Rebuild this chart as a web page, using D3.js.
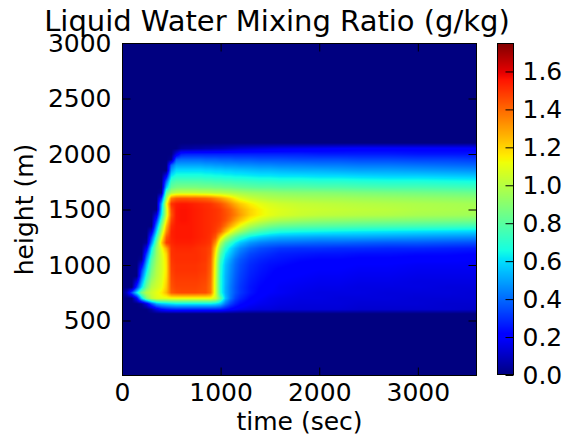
<!DOCTYPE html>
<html>
<head>
<meta charset="utf-8">
<script src="https://cdn.jsdelivr.net/npm/d3@7"></script>
<style>
  body { margin: 0; background: #fff; }
  svg { display: block; }
  text { font-family: "DejaVu Sans", sans-serif; fill: #000; }
</style>
</head>
<body>
<svg id="chart" width="564" height="436"></svg>
<script>
// Sample times (s) of the liquid-water field
const timeNodes = [0, 50, 100, 150, 200, 250, 300, 350, 400, 450,
                   500, 550, 600, 650, 700, 750, 800, 850, 900, 950,
                   1000, 1050, 1100, 1150, 1200, 1300, 1400, 1500, 1600,
                   1800, 2000, 2200, 2400, 2700, 3000, 3300, 3600];

// Sample heights (m)
const heightNodes = [0, 560, 600, 650, 700, 750, 800, 850, 900, 950, 1000,
                     1050, 1100, 1150, 1200, 1250, 1300, 1350, 1400, 1450, 1500,
                     1550, 1600, 1650, 1700, 1750, 1800, 1850, 1900, 1950, 2000,
                     2050, 2100, 3000];

// Liquid water mixing ratio (g/kg): one row per height, one value per time
const lwcRows = [
  /*    0 */ [0,0,0,0,0,0,0,0,0,0, 0,0,0,0,0,0,0,0,0,0, 0,0,0,0,0,0,0,0,0, 0,0,0,0,0,0,0,0],
  /*  560 */ [0,0,0,0,0,0,0,0,0,0, 0,0,0,0,0,0,0,0,0,0, 0,0,0,0,0,0,0,0,0, 0,0,0,0,0,0,0,0],
  /*  600 */ [0,0,0,0,0,0,0.05,0.15,0.22,0.25, 0.27,0.28,0.28,0.28,0.28,0.28,0.28,0.28,0.28,0.28, 0.27,0.24,0.21,0.19,0.17,0.15,0.14,0.14,0.13, 0.13,0.13,0.13,0.12,0.12,0.12,0.12,0.11],
  /*  650 */ [0,0,0,0,0.03,0.15,0.35,0.5,0.55,0.58, 0.6,0.62,0.62,0.62,0.62,0.62,0.62,0.62,0.62,0.6, 0.55,0.42,0.33,0.27,0.23,0.19,0.17,0.16,0.15, 0.14,0.14,0.14,0.13,0.13,0.13,0.12,0.12],
  /*  700 */ [0,0,0,0.2,0.6,0.88,1.02,1.08,1.1,1.1, 1.12,1.12,1.12,1.12,1.12,1.12,1.12,1.12,1.12,1.05, 0.8,0.55,0.42,0.33,0.28,0.22,0.19,0.17,0.16, 0.15,0.15,0.14,0.14,0.14,0.13,0.13,0.13],
  /*  750 */ [0,0.1,0.35,0.62,0.87,1.0,1.05,1.1,1.15,1.25, 1.42,1.45,1.46,1.46,1.46,1.46,1.45,1.45,1.38,1.05, 0.68,0.52,0.43,0.36,0.31,0.25,0.21,0.19,0.18, 0.16,0.15,0.15,0.15,0.14,0.14,0.14,0.13],
  /*  800 */ [0,0,0,0.3,0.6,0.85,1.0,1.05,1.1,1.22, 1.44,1.47,1.47,1.47,1.47,1.47,1.46,1.45,1.38,1.05, 0.68,0.52,0.43,0.36,0.31,0.25,0.22,0.2,0.18, 0.17,0.16,0.16,0.15,0.15,0.15,0.14,0.14],
  /*  850 */ [0,0,0,0.15,0.5,0.78,0.95,1.03,1.08,1.2, 1.45,1.48,1.48,1.48,1.48,1.48,1.47,1.46,1.39,1.05, 0.68,0.53,0.44,0.37,0.32,0.26,0.23,0.21,0.19, 0.18,0.17,0.17,0.16,0.16,0.15,0.15,0.15],
  /*  900 */ [0,0,0,0,0.4,0.7,0.9,1.0,1.07,1.18, 1.46,1.49,1.49,1.49,1.49,1.49,1.48,1.47,1.4,1.06, 0.68,0.53,0.45,0.38,0.33,0.27,0.24,0.22,0.2, 0.19,0.18,0.18,0.17,0.17,0.16,0.16,0.16],
  /*  950 */ [0,0,0,0,0.32,0.62,0.86,0.99,1.06,1.17, 1.47,1.5,1.5,1.5,1.5,1.5,1.49,1.48,1.41,1.07, 0.69,0.54,0.46,0.39,0.34,0.28,0.25,0.23,0.21, 0.2,0.19,0.19,0.18,0.18,0.17,0.17,0.17],
  /* 1000 */ [0,0,0,0,0.18,0.55,0.82,0.97,1.06,1.17, 1.48,1.5,1.5,1.5,1.5,1.5,1.49,1.48,1.42,1.08, 0.7,0.55,0.47,0.4,0.35,0.29,0.26,0.24,0.23, 0.21,0.2,0.2,0.19,0.19,0.18,0.18,0.18],
  /* 1050 */ [0,0,0,0,0.03,0.45,0.78,0.95,1.06,1.18, 1.49,1.51,1.51,1.51,1.51,1.51,1.5,1.49,1.43,1.1, 0.74,0.58,0.5,0.42,0.37,0.31,0.28,0.26,0.25, 0.23,0.22,0.22,0.21,0.21,0.2,0.2,0.19],
  /* 1100 */ [0,0,0,0,0,0.33,0.7,0.93,1.07,1.2, 1.5,1.51,1.51,1.51,1.51,1.51,1.5,1.49,1.45,1.14, 0.8,0.63,0.55,0.47,0.41,0.34,0.31,0.29,0.27, 0.26,0.25,0.25,0.24,0.24,0.23,0.23,0.22],
  /* 1150 */ [0,0,0,0,0,0.18,0.62,0.92,1.1,1.28, 1.5,1.52,1.52,1.52,1.52,1.51,1.5,1.49,1.46,1.2, 0.88,0.7,0.6,0.52,0.46,0.39,0.35,0.33,0.31, 0.3,0.3,0.29,0.29,0.28,0.28,0.27,0.26],
  /* 1200 */ [0,0,0,0,0,0.03,0.45,0.84,1.2,1.48, 1.52,1.54,1.54,1.54,1.54,1.53,1.52,1.51,1.49,1.32, 1.0,0.82,0.72,0.63,0.56,0.48,0.44,0.42,0.41, 0.4,0.39,0.39,0.38,0.37,0.37,0.36,0.35],
  /* 1250 */ [0,0,0,0,0,0,0.32,0.72,1.1,1.43, 1.53,1.55,1.55,1.55,1.55,1.54,1.53,1.52,1.5,1.43, 1.2,1.02,0.9,0.8,0.72,0.62,0.57,0.54,0.52, 0.51,0.5,0.5,0.5,0.49,0.48,0.47,0.46],
  /* 1300 */ [0,0,0,0,0,0,0.15,0.58,0.98,1.33, 1.53,1.55,1.55,1.55,1.55,1.54,1.53,1.52,1.51,1.48, 1.4,1.25,1.12,1.02,0.94,0.82,0.75,0.7,0.67, 0.65,0.64,0.63,0.62,0.61,0.6,0.59,0.58],
  /* 1350 */ [0,0,0,0,0,0,0,0.45,0.88,1.25, 1.51,1.55,1.55,1.55,1.55,1.54,1.53,1.52,1.51,1.49, 1.46,1.38,1.28,1.19,1.1,0.98,0.91,0.86,0.83, 0.81,0.8,0.79,0.78,0.77,0.76,0.75,0.74],
  /* 1400 */ [0,0,0,0,0,0,0,0.3,0.75,1.15, 1.47,1.55,1.56,1.56,1.55,1.54,1.53,1.52,1.51,1.5, 1.48,1.44,1.38,1.3,1.23,1.12,1.05,1.0,0.97, 0.94,0.92,0.91,0.9,0.89,0.88,0.87,0.86],
  /* 1450 */ [0,0,0,0,0,0,0,0.15,0.62,1.05, 1.43,1.55,1.56,1.56,1.55,1.54,1.53,1.52,1.51,1.5, 1.48,1.45,1.41,1.36,1.3,1.2,1.14,1.1,1.07, 1.04,1.02,1.01,1.0,0.99,0.97,0.96,0.95],
  /* 1500 */ [0,0,0,0,0,0,0,0,0.55,1.05, 1.45,1.55,1.56,1.56,1.55,1.54,1.53,1.52,1.51,1.5, 1.48,1.44,1.4,1.34,1.28,1.2,1.14,1.1,1.08, 1.05,1.04,1.03,1.02,1.01,0.99,0.98,0.97],
  /* 1550 */ [0,0,0,0,0,0,0,0,0.5,1.1, 1.5,1.54,1.55,1.55,1.54,1.53,1.52,1.51,1.5,1.47, 1.44,1.39,1.33,1.27,1.22,1.15,1.1,1.07,1.05, 1.03,1.02,1.01,1.0,0.99,0.98,0.97,0.96],
  /* 1600 */ [0,0,0,0,0,0,0,0,0.3,0.95, 1.35,1.42,1.43,1.43,1.42,1.42,1.41,1.4,1.38,1.34, 1.3,1.25,1.2,1.14,1.09,1.04,1.01,0.99,0.98, 0.97,0.96,0.96,0.95,0.94,0.93,0.92,0.91],
  /* 1650 */ [0,0,0,0,0,0,0,0,0.03,0.8, 0.98,1.02,1.03,1.03,1.03,1.03,1.02,1.02,1.01,1.0, 1.0,0.99,0.98,0.97,0.96,0.94,0.93,0.92,0.91, 0.9,0.9,0.89,0.88,0.87,0.86,0.85,0.84],
  /* 1700 */ [0,0,0,0,0,0,0,0,0,0.55, 0.82,0.86,0.87,0.87,0.87,0.87,0.86,0.86,0.86,0.85, 0.85,0.84,0.84,0.83,0.82,0.81,0.8,0.8,0.79, 0.79,0.78,0.78,0.77,0.76,0.76,0.75,0.74],
  /* 1750 */ [0,0,0,0,0,0,0,0,0,0.4, 0.74,0.78,0.78,0.78,0.78,0.78,0.78,0.77,0.77,0.76, 0.76,0.75,0.75,0.74,0.74,0.73,0.72,0.72,0.71, 0.71,0.7,0.7,0.69,0.68,0.68,0.67,0.66],
  /* 1800 */ [0,0,0,0,0,0,0,0,0,0.2, 0.62,0.68,0.68,0.68,0.68,0.68,0.68,0.67,0.67,0.66, 0.66,0.65,0.65,0.64,0.64,0.63,0.62,0.62,0.61, 0.61,0.6,0.6,0.59,0.58,0.58,0.57,0.56],
  /* 1850 */ [0,0,0,0,0,0,0,0,0,0, 0.5,0.6,0.6,0.6,0.6,0.6,0.6,0.59,0.59,0.58, 0.58,0.57,0.57,0.56,0.56,0.55,0.54,0.54,0.53, 0.52,0.52,0.51,0.5,0.5,0.49,0.48,0.47],
  /* 1900 */ [0,0,0,0,0,0,0,0,0,0, 0.38,0.5,0.5,0.5,0.5,0.5,0.5,0.49,0.49,0.48, 0.48,0.47,0.47,0.47,0.46,0.46,0.45,0.45,0.44, 0.44,0.43,0.43,0.42,0.42,0.41,0.4,0.39],
  /* 1950 */ [0,0,0,0,0,0,0,0,0,0, 0.03,0.38,0.4,0.4,0.4,0.4,0.4,0.39,0.39,0.39, 0.38,0.38,0.38,0.37,0.37,0.37,0.36,0.36,0.36, 0.35,0.35,0.35,0.34,0.34,0.33,0.33,0.32],
  /* 2000 */ [0,0,0,0,0,0,0,0,0,0, 0,0.15,0.26,0.27,0.27,0.27,0.27,0.27,0.27,0.27, 0.27,0.27,0.27,0.27,0.27,0.27,0.27,0.27,0.27, 0.27,0.26,0.26,0.26,0.26,0.25,0.25,0.25],
  /* 2050 */ [0,0,0,0,0,0,0,0,0,0, 0,0,0.04,0.05,0.05,0.06,0.06,0.07,0.07,0.08, 0.08,0.09,0.1,0.11,0.12,0.13,0.14,0.15,0.16, 0.17,0.18,0.19,0.2,0.2,0.2,0.2,0.2],
  /* 2100 */ [0,0,0,0,0,0,0,0,0,0, 0,0,0,0,0,0,0,0,0,0, 0,0,0,0,0,0,0,0,0, 0,0,0,0,0,0,0,0],
  /* 3000 */ [0,0,0,0,0,0,0,0,0,0, 0,0,0,0,0,0,0,0,0,0, 0,0,0,0,0,0,0,0,0, 0,0,0,0,0,0,0,0]
];

const xTicks = [0, 1000, 2000, 3000];
const yTicks = [500, 1000, 1500, 2000, 2500, 3000];
const cbTicks = [0, 0.2, 0.4, 0.6, 0.8, 1.0, 1.2, 1.4, 1.6];
const cbMax = 1.75;

const titleText = "Liquid Water Mixing Ratio (g/kg)";
const xLabel = "time (sec)";
const yLabel = "height (m)";

const svg = d3.select("#chart");
svg.append("rect").attr("width", 564).attr("height", 436).attr("fill", "#fff");

const x = d3.scaleLinear().domain([0, 3600]).range([122, 477]);
const y = d3.scaleLinear().domain([0, 3000]).range([376, 43]);
const cb = d3.scaleLinear().domain([0, cbMax]).range([375, 43]);

// jet colormap, channel by channel
const jr = d3.scaleLinear().domain([0, 0.35, 0.66, 0.89, 1]).range([0, 0, 1, 1, 0.5]).clamp(true);
const jg = d3.scaleLinear().domain([0, 0.125, 0.375, 0.64, 0.91, 1]).range([0, 0, 1, 1, 0, 0]).clamp(true);
const jb = d3.scaleLinear().domain([0, 0.11, 0.34, 0.65, 1]).range([0.5, 1, 1, 0, 0]).clamp(true);
const norm = d3.scaleLinear().domain([0, cbMax]).range([0, 1]).clamp(true);
function jet(v) {
  const u = norm(v);
  return [Math.round(jr(u) * 255), Math.round(jg(u) * 255), Math.round(jb(u) * 255)];
}

// bilinear shading between the sample nodes
function field(t, h) {
  const nt = timeNodes.length, nh = heightNodes.length;
  const i = Math.max(0, Math.min(nt - 2, d3.bisectRight(timeNodes, t) - 1));
  const j = Math.max(0, Math.min(nh - 2, d3.bisectRight(heightNodes, h) - 1));
  const ft = Math.max(0, Math.min(1, (t - timeNodes[i]) / (timeNodes[i + 1] - timeNodes[i])));
  const fh = Math.max(0, Math.min(1, (h - heightNodes[j]) / (heightNodes[j + 1] - heightNodes[j])));
  const a = lwcRows[j][i] * (1 - ft) + lwcRows[j][i + 1] * ft;
  const b = lwcRows[j + 1][i] * (1 - ft) + lwcRows[j + 1][i + 1] * ft;
  return a * (1 - fh) + b * fh;
}

// heat map raster
const px0 = x(0), px1 = x(3600), py0 = y(3000), py1 = y(0);
const W = Math.round(px1 - px0), H = Math.round(py1 - py0);
const can = document.createElement("canvas");
can.width = W; can.height = H;
const ctx = can.getContext("2d");
const img = ctx.createImageData(W, H);
for (let r = 0; r < H; r++) {
  const h = y.invert(py0 + r + 0.5);
  for (let c = 0; c < W; c++) {
    const t = x.invert(px0 + c + 0.5);
    const col = jet(field(t, h));
    const k = (r * W + c) * 4;
    img.data[k] = col[0]; img.data[k + 1] = col[1]; img.data[k + 2] = col[2]; img.data[k + 3] = 255;
  }
}
ctx.putImageData(img, 0, 0);
svg.append("image")
  .attr("x", px0).attr("y", py0).attr("width", W).attr("height", H)
  .attr("preserveAspectRatio", "none")
  .attr("href", can.toDataURL());

// frame
svg.append("rect")
  .attr("x", px0 + 0.5).attr("y", py0 + 0.5)
  .attr("width", W - 1).attr("height", H - 1)
  .attr("fill", "none").attr("stroke", "#000").attr("stroke-width", 1);

function styleAxis(g) {
  g.select(".domain").remove();
  g.selectAll("line").attr("stroke", "#000").attr("stroke-width", 1);
  g.attr("font-size", 25).attr("font-family", '"DejaVu Sans", sans-serif');
  g.selectAll("text").attr("fill", "#111");
}

svg.append("g").attr("transform", `translate(0,${py1 - 0.5})`)
  .call(d3.axisBottom(x).tickValues(xTicks).tickSizeInner(-8).tickSizeOuter(0).tickPadding(8).tickFormat(d3.format("d")))
  .call(styleAxis);
svg.append("g").attr("transform", `translate(0,${py0 + 0.5})`)
  .call(d3.axisTop(x).tickValues(xTicks).tickSizeInner(-8).tickSizeOuter(0).tickFormat(""))
  .call(styleAxis);
svg.append("g").attr("transform", `translate(${px0 + 0.5},0)`)
  .call(d3.axisLeft(y).tickValues(yTicks).tickSizeInner(-8).tickSizeOuter(0).tickPadding(11).tickFormat(d3.format("d")))
  .call(styleAxis);
svg.append("g").attr("transform", `translate(${px1 - 0.5},0)`)
  .call(d3.axisRight(y).tickValues(yTicks).tickSizeInner(-8).tickSizeOuter(0).tickFormat(""))
  .call(styleAxis);

// colour bar
const cbX = 497, cbW = 17;
const cbTop = cb(cbMax), cbBot = cb(0);
const cbH = Math.round(cbBot - cbTop);
const cbCan = document.createElement("canvas");
cbCan.width = cbW; cbCan.height = cbH;
const cbCtx = cbCan.getContext("2d");
for (let r = 0; r < cbH; r++) {
  const col = jet(cb.invert(cbTop + r + 0.5));
  cbCtx.fillStyle = `rgb(${col[0]},${col[1]},${col[2]})`;
  cbCtx.fillRect(0, r, cbW, 1);
}
svg.append("image")
  .attr("x", cbX).attr("y", cbTop).attr("width", cbW).attr("height", cbH)
  .attr("preserveAspectRatio", "none")
  .attr("href", cbCan.toDataURL());
svg.append("rect")
  .attr("x", cbX + 0.5).attr("y", cbTop + 0.5).attr("width", cbW - 1).attr("height", cbH - 1)
  .attr("fill", "none").attr("stroke", "#000").attr("stroke-width", 1);
svg.append("g").attr("transform", `translate(${cbX + cbW - 0.5},0)`)
  .call(d3.axisRight(cb).tickValues(cbTicks).tickSizeInner(-8).tickSizeOuter(0).tickPadding(9).tickFormat(d3.format(".1f")))
  .call(styleAxis);

// titles
svg.append("text").attr("x", 277).attr("y", 31).attr("text-anchor", "middle")
  .attr("font-size", 29).attr("fill", "#111").text(titleText);
svg.append("text").attr("x", (px0 + px1) / 2).attr("y", 430).attr("text-anchor", "middle")
  .attr("font-size", 25).attr("fill", "#111").text(xLabel);
svg.append("text").attr("transform", `translate(33,${(py0 + py1) / 2}) rotate(-90)`)
  .attr("text-anchor", "middle").attr("font-size", 25).attr("fill", "#111").text(yLabel);
</script>
</body>
</html>
